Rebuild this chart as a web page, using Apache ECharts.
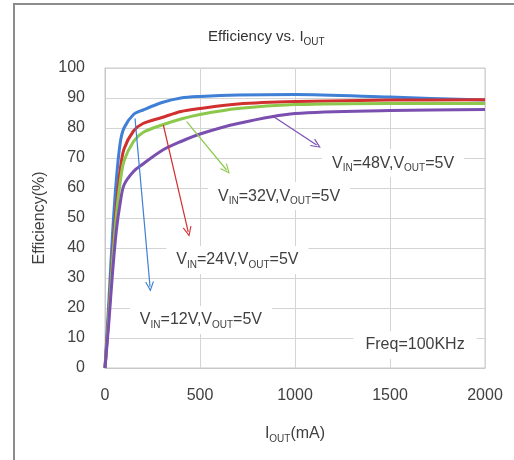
<!DOCTYPE html>
<html>
<head>
<meta charset="utf-8">
<script src="https://cdn.jsdelivr.net/npm/echarts@6/dist/echarts.min.js"></script>
<style>html,body{margin:0;padding:0;background:#fff}#c{width:514px;height:460px}</style>
</head>
<body>
<div id="c"></div>
<script>
// Output current (mA)
const iout = [0, 20, 40, 60, 80, 100, 150, 200, 300, 400, 500, 700, 1000, 1500, 2000];
// Efficiency (%) per input voltage
const eff12 = [0, 22, 45, 63, 75, 80, 84.5, 86, 88.5, 90, 90.5, 91, 91.2, 90.3, 89.3];
const eff24 = [0, 18, 38, 54, 66, 73, 79, 81.5, 83.5, 85.5, 86.5, 88, 88.8, 89.3, 89.4];
const eff32 = [0, 17, 36, 51, 62, 69, 75.5, 78.5, 81, 83, 84.5, 86.5, 87.8, 88.2, 88.2];
const eff48 = [0, 15, 32, 46, 55, 61, 65.5, 68, 72.5, 75.5, 78, 81.5, 84.8, 85.8, 86.2];
const seriesNames = ['12V', '24V', '32V', '48V'];
const seriesColors = ['#3f7fd6', '#d22f2f', '#8cc84b', '#7a4fb0'];
// annotation arrows [from, to] in data coordinates
const arrows = [
  [[158, 83.2], [237, 27.1]],
  [[307, 81], [438, 45.4]],
  [[430, 82.1], [640, 66]],
  [[886, 83.8], [1114, 74.3]]
];
// annotation label positions (data coordinates)
const labelPos = [[505, 16], [697, 36], [916, 57.3], [1516, 68.3]];
const freqPos = [1632, 7.7];
const xTicks = {min: 0, max: 2000, interval: 500};
const yTicks = {min: 0, max: 100, interval: 10};

const font = '"Liberation Sans", Arial, sans-serif';
const txt = '#404040';
const richSub = {
  m: {fontSize: 16, fontFamily: font, color: txt, lineHeight: 20, fontWeight: 'normal'},
  s: {fontSize: 10, fontFamily: font, color: txt, lineHeight: 12, verticalAlign: 'bottom', fontWeight: 'normal'}
};
const allData = [eff12, eff24, eff32, eff48];
const series = allData.map((d, k) => ({
  name: seriesNames[k],
  type: 'line',
  data: iout.map((x, i) => [x, d[i]]),
  smooth: 0.3,
  showSymbol: false,
  lineStyle: {color: seriesColors[k], width: 3},
  itemStyle: {color: seriesColors[k]},
  z: 3,
  markLine: {
    silent: true,
    symbol: ['none', 'path://M5,0 L10,10 L8.6,10 L5,2.6 L1.4,10 L0,10 Z'],
    symbolSize: [9, 10],
    lineStyle: {color: seriesColors[k], width: 1.2, type: 'solid'},
    label: {show: false},
    data: [[{coord: arrows[k][0]}, {coord: arrows[k][1]}]]
  },
  markPoint: {
    silent: true,
    symbol: 'rect',
    symbolSize: 1,
    itemStyle: {color: 'rgba(0,0,0,0)'},
    z: 5,
    label: {
      show: true, position: 'inside', backgroundColor: '#fff', padding: [4, 10, 4, 10],
      formatter: '{m|V}{s|IN}{m|=' + seriesNames[k] + ',V}{s|OUT}{m|=5V}',
      rich: richSub
    },
    data: [{coord: labelPos[k]}].concat(k === 0 ? [{
      coord: freqPos,
      label: {formatter: '{m|Freq=100KHz}', padding: [4, 12, 4, 12]}
    }] : [])
  }
}));

const chart = echarts.init(document.getElementById('c'), null, {renderer: 'canvas'});
chart.setOption({
  animation: false,
  backgroundColor: '#fff',
  title: {
    text: '{m|Efficiency vs. I}{s|OUT}',
    left: 203, top: 22,
    textStyle: {fontWeight: 'normal', rich: {
      m: {fontSize: 15, fontFamily: font, color: '#333', lineHeight: 20, fontWeight: 'normal'},
      s: {fontSize: 10, fontFamily: font, color: '#333', lineHeight: 12, verticalAlign: 'bottom', fontWeight: 'normal'}
    }}
  },
  graphic: [{
    type: 'polyline', silent: true, z: 100,
    shape: {points: [[14, 470], [14, 4], [520, 4]]},
    style: {stroke: '#8c8c8c', lineWidth: 2, fill: null}
  }],
  grid: {left: 105, right: 29, top: 68, bottom: 92, show: true, borderColor: '#c8c8c8', borderWidth: 1, backgroundColor: '#fff'},
  xAxis: {
    type: 'value', min: xTicks.min, max: xTicks.max, interval: xTicks.interval,
    axisLine: {show: true, lineStyle: {color: '#c8c8c8'}},
    axisTick: {show: false},
    axisLabel: {fontSize: 16, fontFamily: font, color: txt, margin: 20, formatter: v => String(v)},
    splitLine: {show: true, lineStyle: {color: '#d4d4d4'}},
    name: '{m|I}{s|OUT}{m|(mA)}', nameLocation: 'middle', nameGap: 56,
    nameTextStyle: {rich: richSub}
  },
  yAxis: {
    type: 'value', min: yTicks.min, max: yTicks.max, interval: yTicks.interval,
    axisLine: {show: true, lineStyle: {color: '#c8c8c8'}},
    axisTick: {show: false},
    axisLabel: {fontSize: 16, fontFamily: font, color: txt, margin: 20},
    splitLine: {show: true, lineStyle: {color: '#d4d4d4'}},
    name: 'Efficiency(%)', nameLocation: 'middle', nameGap: 54,
    nameTextStyle: {fontSize: 16, fontFamily: font, color: txt}
  },
  series: series
});
</script>
</body>
</html>
